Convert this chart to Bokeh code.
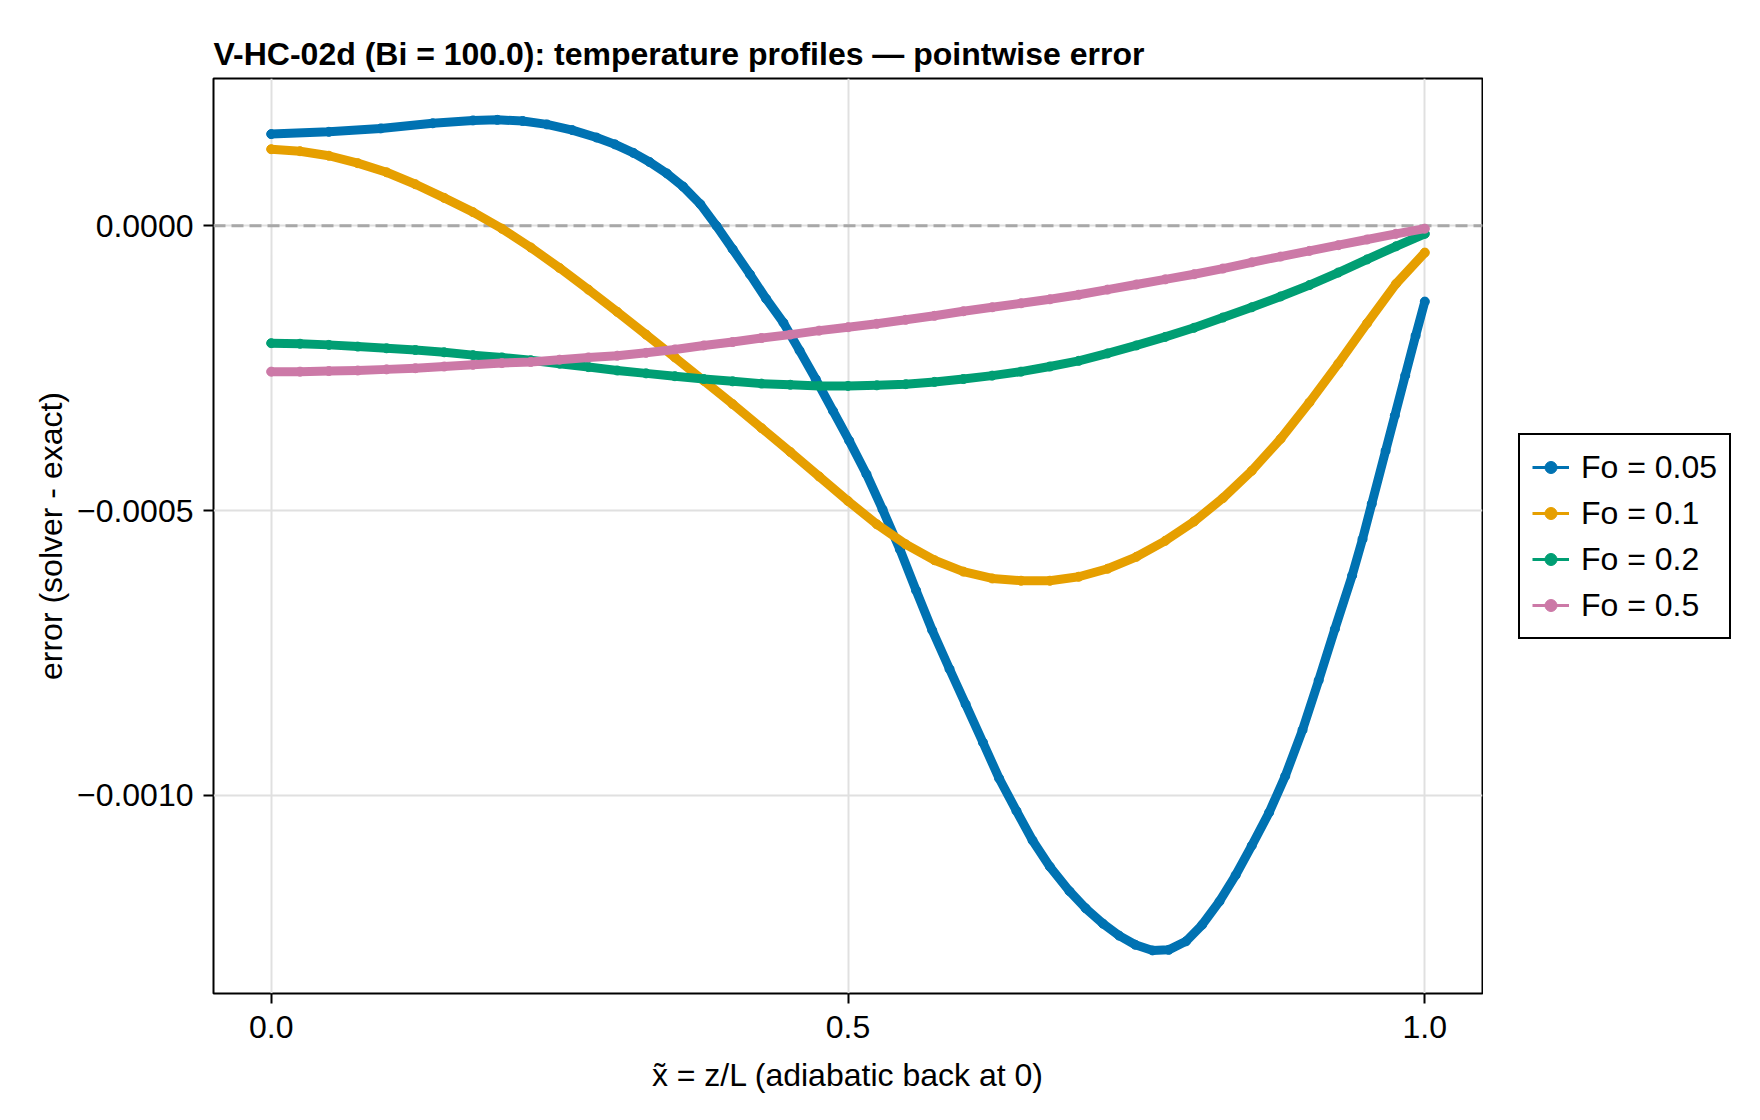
from bokeh.plotting import figure
from bokeh.layouts import row
from bokeh.models import (Range1d, FixedTicker, CustomJSTickFormatter, Legend,
                          LegendItem, Span)
from bokeh.embed import file_html
from bokeh.resources import INLINE

FONT = "Liberation Sans"

# normalised depth x~ = z/L, shared by the smoother profiles
x_tilde = [0.000, 0.025, 0.050, 0.075, 0.100, 0.125, 0.150, 0.175, 0.200, 0.225,
           0.250, 0.275, 0.300, 0.325, 0.350, 0.375, 0.400, 0.425, 0.450, 0.475,
           0.500, 0.525, 0.550, 0.575, 0.600, 0.625, 0.650, 0.675, 0.700, 0.725,
           0.750, 0.775, 0.800, 0.825, 0.850, 0.875, 0.900, 0.925, 0.950, 0.975,
           1.000]

# the Fo = 0.05 profile bends sharply, so it is sampled more finely
x_tilde_fine = [0.000, 0.050, 0.095, 0.140, 0.175, 0.196, 0.218, 0.239, 0.261, 0.282,
                0.298, 0.314, 0.328, 0.343, 0.357, 0.372, 0.386, 0.400, 0.415, 0.429,
                0.444, 0.458, 0.472, 0.487, 0.501, 0.516, 0.530, 0.545, 0.559, 0.573,
                0.588, 0.602, 0.617, 0.631, 0.646, 0.660, 0.675, 0.692, 0.706, 0.721,
                0.735, 0.749, 0.764, 0.778, 0.793, 0.807, 0.822, 0.836, 0.850, 0.865,
                0.879, 0.894, 0.908, 0.922, 0.937, 0.946, 0.954, 0.966, 0.974, 0.983,
                0.992, 1.000]

# pointwise error (solver - exact), in units of 1e-4
ERR_UNIT = 1e-4
err_fo_005 = [1.61, 1.65, 1.71, 1.80, 1.85, 1.86, 1.84, 1.78, 1.68, 1.55,
              1.43, 1.28, 1.12, 0.92, 0.69, 0.38, 0.00, -0.41, -0.85, -1.28,
              -1.70, -2.19, -2.69, -3.25, -3.77, -4.36, -4.98, -5.68, -6.40, -7.10,
              -7.78, -8.40, -9.07, -9.70, -10.27, -10.79, -11.25, -11.68, -11.98, -12.25,
              -12.46, -12.62, -12.72, -12.71, -12.56, -12.27, -11.86, -11.40, -10.88, -10.30,
              -9.66, -8.85, -7.98, -7.08, -6.14, -5.50, -4.88, -3.95, -3.33, -2.63,
              -1.93, -1.33]
err_fo_01 = [1.345, 1.31, 1.23, 1.10, 0.94, 0.73, 0.49, 0.24, -0.05, -0.38,
             -0.74, -1.12, -1.51, -1.91, -2.31, -2.72, -3.13, -3.55, -3.97, -4.40,
             -4.83, -5.24, -5.59, -5.87, -6.07, -6.19, -6.23, -6.23, -6.16, -6.02,
             -5.81, -5.53, -5.19, -4.78, -4.30, -3.74, -3.10, -2.42, -1.71, -1.02,
             -0.47]
err_fo_02 = [-2.06, -2.07, -2.09, -2.12, -2.15, -2.18, -2.22, -2.27, -2.31, -2.36,
             -2.42, -2.48, -2.54, -2.59, -2.64, -2.69, -2.73, -2.77, -2.79, -2.81,
             -2.81, -2.80, -2.78, -2.74, -2.69, -2.63, -2.56, -2.47, -2.37, -2.24,
             -2.10, -1.95, -1.79, -1.61, -1.43, -1.24, -1.04, -0.82, -0.59, -0.36,
             -0.14]
err_fo_05 = [-2.56, -2.56, -2.55, -2.54, -2.52, -2.50, -2.47, -2.44, -2.41, -2.39,
             -2.35, -2.31, -2.28, -2.23, -2.17, -2.10, -2.04, -1.97, -1.91, -1.84,
             -1.78, -1.72, -1.65, -1.58, -1.50, -1.43, -1.36, -1.29, -1.21, -1.12,
             -1.03, -0.94, -0.85, -0.75, -0.64, -0.54, -0.44, -0.34, -0.24, -0.14,
             -0.05]

series_labels = ["Fo = 0.05", "Fo = 0.1", "Fo = 0.2", "Fo = 0.5"]
series_x = [x_tilde_fine, x_tilde, x_tilde, x_tilde]
series_values = [err_fo_005, err_fo_01, err_fo_02, err_fo_05]
series_colors = ["#0072B2", "#E69F00", "#009E73", "#CC79A7"]

x_ticks = [0.0, 0.5, 1.0]
y_ticks = [-0.001, -0.0005, 0.0]

p = figure(width=1483, height=1120, output_backend="svg", toolbar_location=None,
           x_range=Range1d(-0.05, 1.05), y_range=Range1d(-0.0013476, 0.0002586),
           min_border_left=213, min_border_right=1, min_border_top=78,
           min_border_bottom=127)

p.background_fill_color = "white"
p.border_fill_color = "white"
p.outline_line_color = "black"
p.outline_line_width = 2
p.outline_line_alpha = 1.0

p.title.text = "V-HC-02d (Bi = 100.0): temperature profiles \u2014 pointwise error"
p.title.text_font = FONT
p.title.text_font_size = "32px"
p.title.text_font_style = "bold"
p.title.text_color = "black"
p.title.align = "left"
p.title.standoff = 14

p.xaxis.ticker = FixedTicker(ticks=x_ticks)
p.yaxis.ticker = FixedTicker(ticks=y_ticks)
p.xaxis.formatter = CustomJSTickFormatter(code="return tick.toFixed(1);")
p.yaxis.formatter = CustomJSTickFormatter(
    code="return (tick < 0 ? '\u2212' : '') + Math.abs(tick).toFixed(4);")

p.xaxis.axis_label = "x\u0303 = z/L (adiabatic back at 0)"
p.yaxis.axis_label = "error (solver - exact)"

for ax in (p.xaxis[0], p.yaxis[0]):
    ax.axis_line_color = None
    ax.major_tick_line_color = "black"
    ax.major_tick_line_width = 2
    ax.major_tick_out = 10
    ax.major_tick_in = 0
    ax.minor_tick_line_color = None
    ax.major_label_text_font = FONT
    ax.major_label_text_font_size = "32px"
    ax.major_label_text_color = "black"
    ax.axis_label_text_font = FONT
    ax.axis_label_text_font_size = "32px"
    ax.axis_label_text_font_style = "normal"
    ax.axis_label_text_color = "black"

p.xaxis.major_label_standoff = 12
p.xaxis.axis_label_standoff = 16
p.yaxis.major_label_standoff = 10
p.yaxis.axis_label_standoff = 5

p.grid.grid_line_color = "#e0e0e0"
p.grid.grid_line_width = 2

zero_line = Span(location=0, dimension="width", line_color="#a8a8a8",
                 line_width=3, line_dash="12 6", level="underlay")
p.add_layout(zero_line)

for xs, vals, color in zip(series_x, series_values, series_colors):
    ys = [v * ERR_UNIT for v in vals]
    p.line(xs, ys, line_color=color, line_width=3)
    p.scatter(xs, ys, size=9, fill_color=color, line_color=color)
    p.line(xs, ys, line_color=color, line_width=9,
           line_cap="round", line_join="round")

# side strip holding the legend, right of the plot frame
side = figure(width=277, height=1120, output_backend="svg", toolbar_location=None,
              x_range=Range1d(0, 1), y_range=Range1d(0, 1),
              x_axis_type=None, y_axis_type=None,
              min_border_left=0, min_border_right=0, min_border_top=0,
              min_border_bottom=0)
side.outline_line_color = None
side.grid.visible = False
side.background_fill_color = "white"
side.border_fill_color = "white"

# legend keys: one off-range point each, so only their legend glyphs show
items = []
for label, color in zip(series_labels, series_colors):
    key_line = side.line([2, 3], [2, 3], line_color=color, line_width=3)
    key_dot = side.scatter([2], [2], size=9, fill_color=color, line_color=color)
    items.append(LegendItem(label=label, renderers=[key_line, key_dot]))

legend = Legend(items=items, location=(35, 354))
legend.label_text_font = FONT
legend.label_text_font_size = "32px"
legend.label_text_color = "black"
legend.glyph_width = 37
legend.glyph_height = 30
legend.label_height = 40
legend.label_standoff = 12
legend.spacing = 6
legend.padding = 12
legend.margin = 0
legend.border_line_color = "black"
legend.border_line_width = 2
legend.border_line_alpha = 1.0
legend.background_fill_color = "white"
legend.background_fill_alpha = 1.0
side.add_layout(legend)

layout = row(p, side)
open("out.html", "w").write(file_html(layout, INLINE))
